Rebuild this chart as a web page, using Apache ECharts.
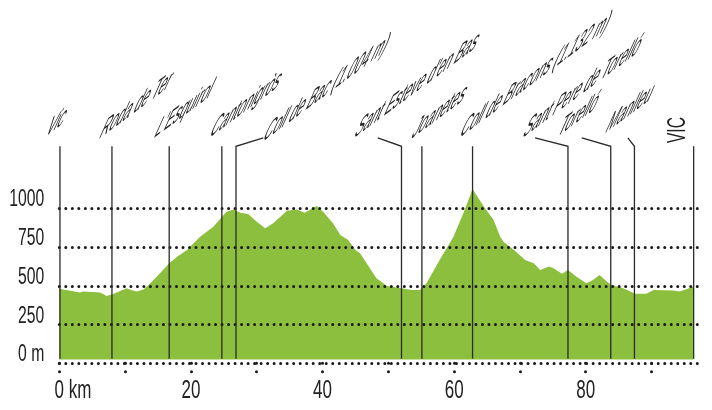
<!DOCTYPE html>
<html>
<head>
<meta charset="utf-8">
<script src="https://cdn.jsdelivr.net/npm/echarts@6/dist/echarts.min.js"></script>
<style>
html,body{margin:0;padding:0;background:#fff;}
#c{width:712px;height:410px;}
</style>
</head>
<body>
<div id="c"></div>
<script>
// ---- profile data (km, elevation m) ----
const kms  = [0,0.5,1.5,3.1,3.65,5.0,6.2,7.2,8.2,9.0,10.25,11.0,11.8,12.8,13.8,14.8,16.7,18.0,19.4,21.4,23.4,25.4,26.5,27.5,28.7,30.0,31.3,32.5,34.6,36.1,37.3,39.1,40.1,41.6,42.7,43.9,45.0,45.7,46.7,48.2,49.8,52.0,53.6,54.8,55.8,57.8,59.9,61.4,62.8,64.5,66.0,67.0,67.5,69.1,70.8,72.1,73.1,74.4,75.1,76.4,77.3,78.6,80.1,81.1,82.1,83.2,83.8,85.7,87.5,89.2,90.3,93.3,94.3,96.4];
const elev = [485,476,470,456,463,460,456,435,447,462,484,472,463,476,515,559,645,690,731,817,881,978,993,972,963,914,871,903,985,993,972,1015,978,903,828,796,731,710,645,549,499,484,473,473,516,667,817,968,1125,1011,925,817,785,731,667,645,602,624,613,577,602,559,516,538,570,527,506,484,448,448,473,469,463,495];

// ---- towns ----
const townNames = ["Vic","Roda de Ter","L'Esquirol","Cantonigròs","Coll de Bac (1.004 m)","Sant Esteve d'en Bas","Joanetes","Coll de Bracons (1.132 m)","Sant Pere de Torelló","Torelló","Manlleu","VIC"];
const townKm    = [0.1, 8.0, 16.7, 24.7, 26.85, 52.0, 55.1, 62.8, 77.3, 83.8, 87.4, 96.4];
const leaderKm  = [0.1, 8.0, 16.7, 24.7, 31.0, 48.4, 55.1, 62.8, 72.3, 79.4, 86.4, 96.4];
const labelKm   = [-1.73, 6.46, 14.8, 23.2, 31.3, 45.2, 53.9, 61.2, 70.8, 76.1, 83.4, 94.0];
const labelM    = [1512, 1499, 1505, 1505, 1479, 1505, 1499, 1505, 1505, 1512, 1537, 1421];
const labelMode = ['skew','skew','skew','skew','skew','skew','skew','skew','skew','skew','skew','up'];

// ---- axes ----
const yTicks = [0, 250, 500, 750, 1000];
const yTickLabels = ['0 m', '250', '500', '750', '1000'];
const xTickKm = [0,10,20,30,40,50,60,70,80,90];
const xLabelKm = [0,20,40,60,80];
const xLabelText = ['0 km','20','40','60','80'];

const FONT = "'Liberation Sans', Arial, sans-serif";
const chart = echarts.init(document.getElementById('c'));
const dotted = {color:'#1a1a1a', width:3, type:[0.01, 6.5], cap:'round'};

chart.setOption({
  animation:false,
  grid:{left:59.3, right:11.1, top:208.3, bottom:46.7},
  xAxis:{
    type:'value', min:0, max:97.5,
    axisLine:{show:false},
    splitLine:{show:false},
    axisTick:{show:true, customValues:xTickKm, length:8.6, lineStyle:{color:'#1a1a1a', width:3, type:[0.01, 8.4], cap:'round'}},
    axisLabel:{show:false}
  },
  yAxis:{
    type:'value', min:0, max:1000, interval:250, z:3,
    axisLine:{show:false}, axisTick:{show:false},
    splitLine:{show:true, lineStyle:dotted},
    axisLabel:{show:false}
  },
  series:[
    {
      type:'line', data:kms.map((k,i)=>[k, elev[i]]), symbol:'none', clip:false,
      lineStyle:{width:0, color:'#8dbf3e'},
      areaStyle:{color:'#8dbf3e', opacity:1, origin:25},
      z:2
    },
    {
      type:'custom', coordinateSystem:'cartesian2d', clip:false, z:5,
      data:townKm.map((k,i)=>[k, leaderKm[i]]),
      renderItem:(params, api)=>{
        const k = api.value(0), e = api.value(1);
        const pts = [api.coord([k, 30]), api.coord([k, 1400])];
        if (Math.abs(e-k) > 0.01) pts.push(api.coord([e, 1455]));
        return {type:'polyline', shape:{points:pts}, style:{stroke:'#2a2a2a', lineWidth:1.3, fill:null}};
      }
    }
  ]
});

const zr = chart.getZr();
const G = echarts.graphic;

// ---- condensed axis labels (placed through the axis scale) ----
yTicks.forEach((v,i)=>{
  const p = chart.convertToPixel({gridIndex:0}, [0, v]);
  zr.add(new G.Text({
    x:p[0]-15, y:p[1]-8.3, scaleX:0.675, silent:true, z:10,
    style:{text:yTickLabels[i], fill:'#222', fontSize:23.3, fontFamily:FONT, align:'right', verticalAlign:'middle'}
  }));
});
xLabelKm.forEach((v,i)=>{
  const p = chart.convertToPixel({gridIndex:0}, [v, 0]);
  const zeroHalf = 0.556*25*0.68/2;
  zr.add(new G.Text({
    x: i===0 ? p[0]-zeroHalf : p[0], y:p[1]+28, scaleX:0.68, silent:true, z:10,
    style:{text:xLabelText[i], fill:'#222', fontSize:25, fontFamily:FONT, align: i===0 ? 'left' : 'center', verticalAlign:'middle'}
  }));
});

// ---- skewed town labels ----
townNames.forEach((name,i)=>{
  const p = chart.convertToPixel({gridIndex:0}, [labelKm[i], labelM[i]]);
  let opts;
  if (labelMode[i] === 'up') {
    opts = {x:p[0], y:p[1], rotation:Math.PI/2, scaleX:0.78, scaleY:1.3};
  } else {
    opts = {x:p[0], y:p[1], rotation:36.5*Math.PI/180, scaleX:0.79, scaleY:0.825};
  }
  const t = new G.Text(Object.assign(opts, {
    silent:true, z:10,
    style:{text:name, fill:'#222', fontSize:20, fontFamily:FONT, align:'left', verticalAlign:'middle'}
  }));
  if (labelMode[i] !== 'up') { t.skewX = -60.5*Math.PI/180; }
  zr.add(t);
});
</script>
</body>
</html>
